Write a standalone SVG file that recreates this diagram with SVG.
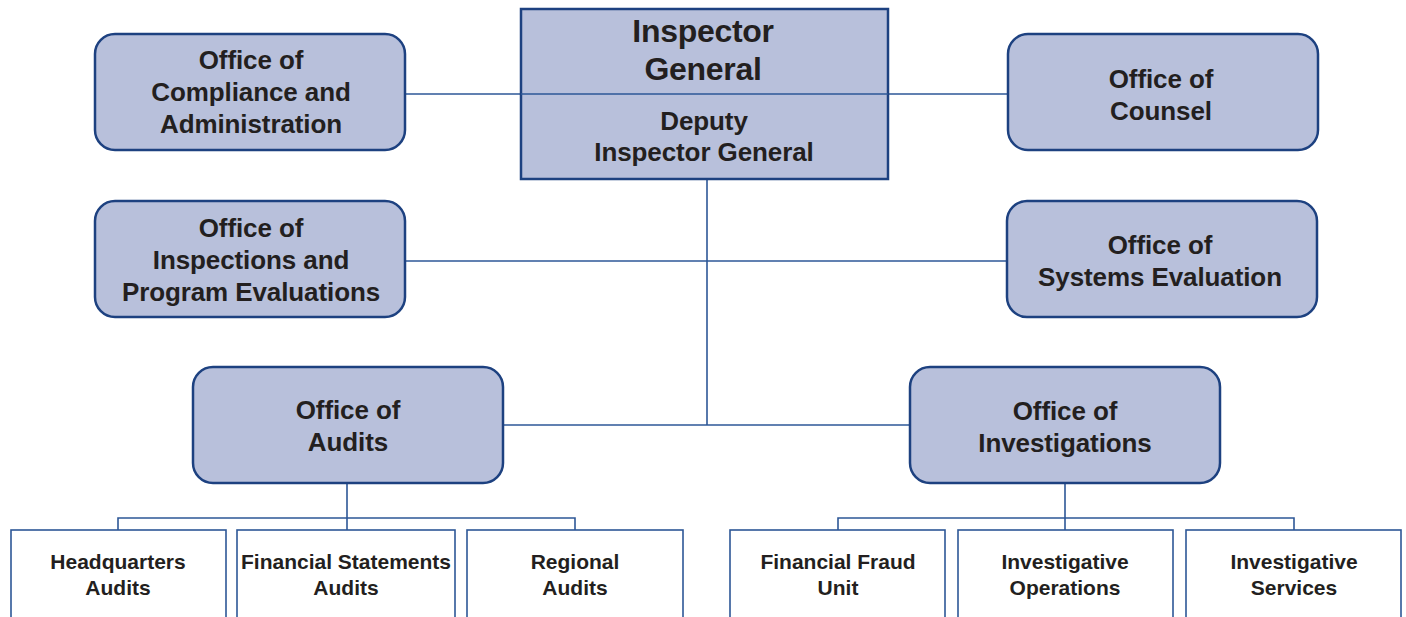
<svg xmlns="http://www.w3.org/2000/svg" width="1406" height="617" viewBox="0 0 1406 617">
  <style>
    .office { fill: #b8c0db; stroke: #1d4180; stroke-width: 2.5; }
    .unit { fill: #ffffff; stroke: #2d5797; stroke-width: 1.6; }
    .link { fill: none; stroke: #2d5797; stroke-width: 1.6; }
    text { font-family: 'Liberation Sans', Arimo, Arial, Helvetica, sans-serif; font-weight: 700; fill: #231f20; text-anchor: middle; }
    .big { font-size: 32px; letter-spacing: -0.3px; }
    .mid { font-size: 26px; letter-spacing: -0.1px; }
    .small { font-size: 21px; }
  </style>
  <rect width="1406" height="617" fill="#ffffff"/>

  <!-- connectors -->
  <g id="connectors">
    <line class="link" x1="405" y1="94" x2="1008" y2="94"/>
    <line class="link" x1="405" y1="261" x2="1007" y2="261"/>
    <line class="link" x1="707" y1="179" x2="707" y2="425"/>
    <line class="link" x1="503" y1="425" x2="910" y2="425"/>
    <path class="link" d="M347 483 V530 M118 530 V518 H575 V530"/>
    <path class="link" d="M1065 483 V530 M838 530 V518 H1294 V530"/>
  </g>

  <g id="inspector-general">
    <rect class="office" x="521" y="9" width="367" height="170"/>
    <line class="link" x1="521" y1="94" x2="888" y2="94"/>
    <text class="big" x="703" y="42">Inspector</text>
    <text class="big" x="703" y="80">General</text>
    <text class="mid" x="704" y="130">Deputy</text>
    <text class="mid" x="704" y="161">Inspector General</text>
  </g>

  <g id="compliance-administration">
    <rect class="office" x="95" y="34" width="310" height="116" rx="20"/>
    <text class="mid" x="251" y="69">Office of</text>
    <text class="mid" x="251" y="101">Compliance and</text>
    <text class="mid" x="251" y="133">Administration</text>
  </g>

  <g id="counsel">
    <rect class="office" x="1008" y="34" width="310" height="116" rx="20"/>
    <text class="mid" x="1161" y="88">Office of</text>
    <text class="mid" x="1161" y="120">Counsel</text>
  </g>

  <g id="inspections-evaluations">
    <rect class="office" x="95" y="201" width="310" height="116" rx="20"/>
    <text class="mid" x="251" y="237">Office of</text>
    <text class="mid" x="251" y="269">Inspections and</text>
    <text class="mid" x="251" y="301">Program Evaluations</text>
  </g>

  <g id="systems-evaluation">
    <rect class="office" x="1007" y="201" width="310" height="116" rx="20"/>
    <text class="mid" x="1160" y="254">Office of</text>
    <text class="mid" x="1160" y="286">Systems Evaluation</text>
  </g>

  <g id="audits">
    <rect class="office" x="193" y="367" width="310" height="116" rx="20"/>
    <text class="mid" x="348" y="419">Office of</text>
    <text class="mid" x="348" y="451">Audits</text>
  </g>

  <g id="investigations">
    <rect class="office" x="910" y="367" width="310" height="116" rx="20"/>
    <text class="mid" x="1065" y="420">Office of</text>
    <text class="mid" x="1065" y="452">Investigations</text>
  </g>

  <g id="headquarters-audits">
    <rect class="unit" x="11" y="530" width="215" height="100"/>
    <text class="small" x="118" y="569">Headquarters</text>
    <text class="small" x="118" y="595">Audits</text>
  </g>

  <g id="financial-statements-audits">
    <rect class="unit" x="237" y="530" width="218" height="100"/>
    <text class="small" x="346" y="569">Financial Statements</text>
    <text class="small" x="346" y="595">Audits</text>
  </g>

  <g id="regional-audits">
    <rect class="unit" x="467" y="530" width="216" height="100"/>
    <text class="small" x="575" y="569">Regional</text>
    <text class="small" x="575" y="595">Audits</text>
  </g>

  <g id="financial-fraud-unit">
    <rect class="unit" x="730" y="530" width="215" height="100"/>
    <text class="small" x="838" y="569">Financial Fraud</text>
    <text class="small" x="838" y="595">Unit</text>
  </g>

  <g id="investigative-operations">
    <rect class="unit" x="958" y="530" width="215" height="100"/>
    <text class="small" x="1065" y="569">Investigative</text>
    <text class="small" x="1065" y="595">Operations</text>
  </g>

  <g id="investigative-services">
    <rect class="unit" x="1186" y="530" width="215" height="100"/>
    <text class="small" x="1294" y="569">Investigative</text>
    <text class="small" x="1294" y="595">Services</text>
  </g>
</svg>
